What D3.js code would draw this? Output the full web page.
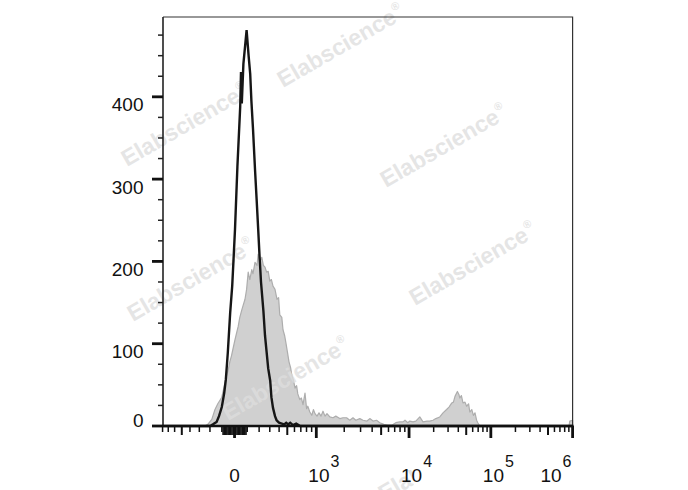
<!DOCTYPE html>
<html>
<head>
<meta charset="utf-8">
<script src="https://cdn.jsdelivr.net/npm/d3@7"></script>
<style>
  html, body { margin: 0; padding: 0; background: #fff; }
  svg { display: block; }
  text { font-family: "Liberation Sans", Arial, sans-serif; }
</style>
</head>
<body>
<svg id="chart" width="688" height="490"></svg>
<script>
// ---------------- DATA ----------------
// Histogram channels (0-1024 display channels of the biexponential axis) and event counts
const controlChannels = [0, 118, 125, 134, 140, 147, 153, 157, 162, 168, 173, 176, 180, 186, 193, 195, 197, 201, 209, 214, 218, 221, 225, 230, 234, 238, 241, 245, 251, 255, 259, 263, 268, 271, 275, 280, 284, 290, 297, 303, 308, 313, 318, 325, 333, 343, 1024];
const controlCounts   = [0, 0, 2, 5, 12, 23, 40, 56, 89, 138, 170, 199, 239, 315, 388, 430, 392, 440, 481, 450, 428, 395, 361, 312, 276, 239, 210, 175, 140, 110, 90, 70, 55, 35, 22, 12, 7, 4, 3, 2, 4, 2, 4, 1, 3, 0, 0];

const stainedChannels = [0, 105, 112, 122, 130, 137, 147, 152, 157, 163, 167, 171, 176, 180, 184, 188, 192, 197, 200, 205, 209, 213, 217, 222, 225, 230, 235, 238, 242, 247, 251, 255, 259, 263, 267, 271, 275, 280, 285, 289, 292, 297, 300, 304, 307, 311, 315, 319, 322, 326, 330, 334, 337, 342, 346, 350, 355, 359, 362, 367, 372, 376, 380, 385, 390, 395, 400, 405, 410, 417, 425, 432, 442, 450, 459, 467, 475, 482, 492, 500, 510, 517, 525, 534, 542, 552, 562, 572, 582, 592, 600, 605, 612, 617, 625, 632, 642, 650, 660, 667, 675, 682, 692, 700, 709, 715, 722, 726, 730, 736, 740, 742, 746, 750, 755, 759, 764, 767, 772, 776, 780, 784, 787, 792, 1015, 1017, 1024];
const stainedCounts   = [0, 0, 2, 8, 20, 27, 35, 46, 58, 68, 78, 85, 96, 105, 113, 121, 132, 141, 146, 154, 166, 187, 178, 190, 185, 199, 195, 209, 200, 205, 195, 193, 187, 188, 176, 178, 170, 166, 154, 156, 135, 132, 117, 110, 102, 90, 78, 71, 62, 56, 46, 49, 39, 32, 34, 26, 40, 21, 24, 17, 13, 20, 15, 12, 16, 12, 18, 12, 15, 11, 10, 12, 9, 10, 10, 7, 10, 7, 9, 7, 6, 9, 6, 7, 4, 2, 1, 1, 4, 5, 5, 7, 4, 6, 5, 6, 11, 5, 6, 6, 7, 9, 11, 16, 20, 23, 28, 29, 36, 42, 38, 34, 37, 28, 29, 24, 27, 17, 20, 13, 16, 7, 4, 0, 0, 6, 7];

// Axis ticks
const yMajorTicks = [0, 100, 200, 300, 400];
const yMinorTicks = [25, 50, 75, 125, 150, 175, 225, 250, 275, 325, 350, 375, 425, 450, 475];
const xMajorTicks = [0, 1e3, 1e4, 1e5, 1e6];
const xMajorBase  = ["0", "10", "10", "10", "10"];
const xMajorExp   = ["", "3", "4", "5", "6"];
const xMidTicks   = [-500, 500, 5e3, 5e4, 5e5];
const xMinorTicks = [-800, -700, -600, -400, -300, -200, -100, 100, 200, 300, 400, 600, 700, 800, 900,
  2e3, 3e3, 4e3, 6e3, 7e3, 8e3, 9e3, 2e4, 3e4, 4e4, 6e4, 7e4, 8e4, 9e4, 2e5, 3e5, 4e5, 6e5, 7e5, 8e5, 9e5];
const xFineTicks  = [-90, -80, -70, -60, -50, -40, -30, -20, -10, 10, 20, 30, 40, 50, 60, 70, 80, 90];

const watermarkText = "Elabscience";

// ---------------- LAYOUT ----------------
const svg = d3.select("#chart");
const mLeft = 163, mRight = 572.6, mTop = 17, mBottom = 426;

const x = d3.scaleLinear().domain([0, 1024]).range([mLeft, mRight]);
const y = d3.scaleLinear().domain([0, 497]).range([mBottom, mTop]);

// biexponential display transform (value -> channel)
const C = 370, xMinVal = -792, xMaxVal = 1e6;
function T(v) {
  if (v <= 1e3) return Math.asinh(v / C) / Math.asinh(1e3 / C);
  if (v <= 1e4) return 1 + (93 / 82) * Math.log10(v / 1e3);
  return 1 + 93 / 82 + Math.log10(v / 1e4);
}
const chScale = d3.scaleLinear().domain([T(xMinVal), T(xMaxVal)]).range([0, 1024]);
const xv = v => x(chScale(T(v)));

const stained = stainedChannels.map((c, i) => [c, stainedCounts[i]]);
const control = controlChannels.map((c, i) => [c, controlCounts[i]]);

// ---------------- GRAY HISTOGRAM ----------------
svg.append("path")
  .datum(stained)
  .attr("d", d3.area().x(d => x(d[0])).y0(y(0)).y1(d => y(d[1])))
  .attr("fill", "#d0d0d0")
  .attr("stroke", "#adadad")
  .attr("stroke-width", 1.2)
  .attr("stroke-linejoin", "round");

// ---------------- WATERMARKS ----------------
const defs = svg.append("defs");
defs.append("clipPath").attr("id", "wmclip")
  .append("rect").attr("x", 0).attr("y", 0).attr("width", 688).attr("height", 490);
defs.append("clipPath").attr("id", "wmclipBottom")
  .append("rect").attr("x", 370).attr("y", 470).attr("width", 44).attr("height", 20);

const wmPos = [[283, 88], [127, 167], [386, 188], [133, 322], [415, 306], [228, 421], [384, 502]];
const wm = svg.append("g");
wmPos.forEach((p, i) => {
  const g = wm.append("g").attr("clip-path", i === wmPos.length - 1 ? "url(#wmclipBottom)" : "url(#wmclip)");
  const t = g.append("text")
    .attr("transform", `translate(${p[0]},${p[1]}) rotate(-30)`)
    .attr("font-size", 23).attr("font-weight", "bold")
    .attr("fill", "#dedede").attr("fill-opacity", 0.8);
  t.append("tspan").text(watermarkText);
  t.append("tspan").attr("font-size", 11).attr("dy", -11).attr("dx", 1).text("®");
});

// ---------------- CONTROL LINE ----------------
svg.append("path")
  .datum(control)
  .attr("d", d3.line().x(d => x(d[0])).y(d => y(d[1])))
  .attr("fill", "none")
  .attr("stroke", "#161616")
  .attr("stroke-width", 2.4)
  .attr("stroke-linejoin", "miter");

// ---------------- FRAME & AXES ----------------
const ax = svg.append("g");
ax.append("path")
  .attr("d", `M${mLeft},${mTop}H${mRight}V${mBottom}`)
  .attr("fill", "none").attr("stroke", "#333").attr("stroke-width", 1.2);
ax.append("line").attr("x1", mLeft).attr("x2", mLeft).attr("y1", mTop).attr("y2", mBottom)
  .attr("stroke", "#222").attr("stroke-width", 1.6);
ax.append("line").attr("x1", mLeft).attr("x2", mRight + 1).attr("y1", mBottom).attr("y2", mBottom)
  .attr("stroke", "#111").attr("stroke-width", 2.6);

// y ticks
ax.selectAll(".ymaj").data(yMajorTicks).enter().append("line")
  .attr("x1", mLeft - 11).attr("x2", mLeft).attr("y1", d => y(d)).attr("y2", d => y(d))
  .attr("stroke", "#111").attr("stroke-width", 2.8);
ax.selectAll(".ymin").data(yMinorTicks).enter().append("line")
  .attr("x1", mLeft - 5).attr("x2", mLeft).attr("y1", d => y(d)).attr("y2", d => y(d))
  .attr("stroke", "#222").attr("stroke-width", 1.5);
ax.selectAll(".ylab").data(yMajorTicks).enter().append("text")
  .attr("x", mLeft - 19.5).attr("y", d => y(d) + (d === 0 ? 1 : 14.5))
  .attr("text-anchor", "end").attr("font-size", 19).attr("fill", "#111")
  .text(d => d);

// x ticks
ax.selectAll(".xfine").data(xFineTicks).enter().append("line")
  .attr("x1", d => xv(d)).attr("x2", d => xv(d)).attr("y1", mBottom).attr("y2", mBottom + 9)
  .attr("stroke", "#111").attr("stroke-width", 1.6);
ax.selectAll(".xmin").data(xMinorTicks).enter().append("line")
  .attr("x1", d => xv(d)).attr("x2", d => xv(d)).attr("y1", mBottom).attr("y2", mBottom + 6)
  .attr("stroke", "#111").attr("stroke-width", 1.5);
ax.selectAll(".xmid").data(xMidTicks).enter().append("line")
  .attr("x1", d => xv(d)).attr("x2", d => xv(d)).attr("y1", mBottom).attr("y2", mBottom + 9)
  .attr("stroke", "#111").attr("stroke-width", 2);
ax.selectAll(".xmaj").data(xMajorTicks).enter().append("line")
  .attr("x1", d => xv(d)).attr("x2", d => xv(d)).attr("y1", mBottom).attr("y2", mBottom + 12)
  .attr("stroke", "#111").attr("stroke-width", 2.8);

// x labels
xMajorTicks.forEach((v, i) => {
  const t = ax.append("text").attr("font-size", 19).attr("fill", "#111").attr("y", 482);
  if (xMajorExp[i] === "") {
    t.attr("x", xv(v)).attr("text-anchor", "middle").text(xMajorBase[i]);
  } else {
    t.append("tspan").text(xMajorBase[i]);
    t.append("tspan").attr("font-size", 16).attr("dy", -15).attr("dx", 1).text(xMajorExp[i]);
    t.attr("x", 0);
    const w = t.node().getBBox().width;
    let sx = xv(v) - 8;
    if (sx + w > mRight) sx = mRight - w - 1;
    t.attr("x", sx);
  }
});
</script>
</body>
</html>
